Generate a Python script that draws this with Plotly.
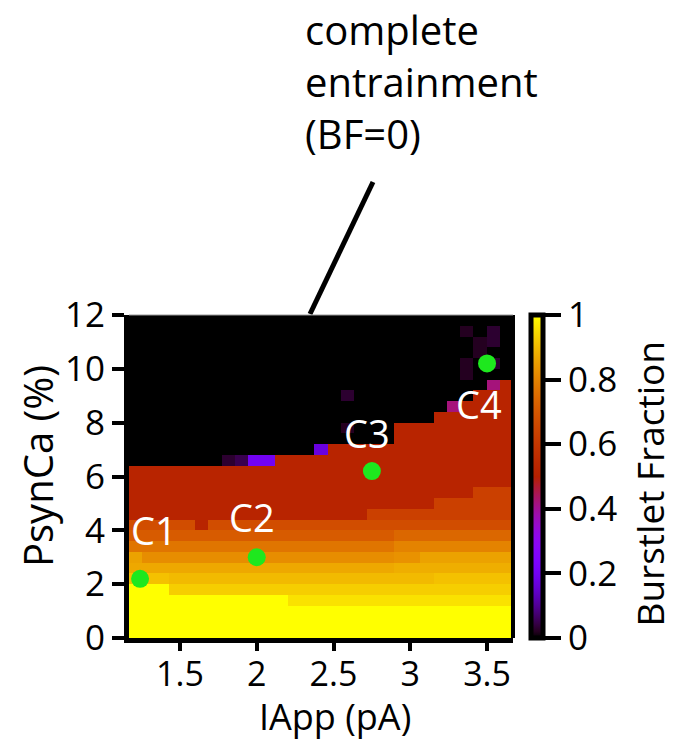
import math
import plotly.graph_objects as go

# ---------------- data ----------------
iapp = [1.211, 1.297, 1.383, 1.470, 1.556, 1.642, 1.728, 1.814, 1.901, 1.987,
        2.073, 2.159, 2.245, 2.332, 2.418, 2.504, 2.590, 2.676, 2.763, 2.849,
        2.935, 3.021, 3.107, 3.194, 3.280, 3.366, 3.452, 3.538, 3.625]
psynca = [0.2, 0.6, 1.0, 1.4, 1.8, 2.2, 2.6, 3.0, 3.4, 3.8,
          4.2, 4.6, 5.0, 5.4, 5.8, 6.2, 6.6, 7.0, 7.4, 7.8,
          8.2, 8.6, 9.0, 9.4, 9.8, 10.2, 10.6, 11.0, 11.4, 11.8]

# burstlet fraction in percent, one row per psynca value (bottom to top), 29 iapp columns
bf_pct = [
    [100] * 29,
    [100] * 29,
    [100] * 29,
    [100] * 12 + [96] * 17,
    [100] * 3 + [93] * 26,
    [91] * 3 + [90] * 20 + [91] * 6,
    [87] * 20 + [88] * 9,
    [86] + [82] * 19 + [83] * 2 + [86] * 7,
    [77] * 20 + [80] * 9,
    [71] * 20 + [74] * 9,
    [67] * 5 + [52] + [67] * 23,
    [52] * 18 + [63] * 11,
    [52] * 23 + [63] * 6,
    [52] * 26 + [63] * 3,
    [52] * 29,
    [52] * 29,
    [0] * 7 + [3, 5, 20, 20] + [52] * 18,
    [0] * 14 + [17] + [52] * 14,
    [0] * 20 + [52] * 9,
    [0] * 16 + [2] + [0] * 3 + [52] * 9,
    [0] * 23 + [52] * 6,
    [0] * 24 + [42] + [52] * 4,
    [0] * 16 + [3] + [0] * 9 + [52] * 3,
    [0] * 27 + [42, 52],
    [0] * 25 + [2] + [0] * 3,
    [0] * 25 + [2, 0, 3, 0],
    [0] * 26 + [2, 0, 0],
    [0] * 26 + [2, 3, 0],
    [0] * 25 + [2, 0, 3, 0],
    [0] * 29,
]
bf = [[v / 100 for v in row] for row in bf_pct]

case_labels = ["C1", "C2", "C3", "C4"]
case_iapp = [1.24, 2.0, 2.75, 3.5]
case_psynca = [2.2, 3.0, 6.2, 10.2]
label_iapp = [1.33, 1.97, 2.72, 3.45]
label_psynca = [4.0, 4.5, 7.6, 8.7]

x_tickvals = [1.5, 2, 2.5, 3, 3.5]
x_ticktext = ["1.5", "2", "2.5", "3", "3.5"]
y_tickvals = [0, 2, 4, 6, 8, 10, 12]
y_ticktext = ["0", "2", "4", "6", "8", "10", "12"]
cb_tickvals = [0, 0.2, 0.4, 0.6, 0.8, 1]
cb_ticktext = ["0", "0.2", "0.4", "0.6", "0.8", "1"]

x_title = "IApp (pA)"
y_title = "PsynCa (%)"
cb_title = "Burstlet Fraction"
note_text = "complete<br>entrainment<br>(BF=0)"

# ---------------- style ----------------
FONT = "Open Sans"
W, H = 676, 742
L, R, T, B = 129, 163, 315, 104


def px_x(px):
    return (px - L) / (W - L - R)


def px_y(py):
    return (H - B - py) / (H - T - B)


def gnuplot_rgb(v):
    r = math.sqrt(v)
    g = v ** 3
    b = max(0.0, math.sin(2 * math.pi * v))
    return "rgb(%d,%d,%d)" % (round(255 * r), round(255 * g), round(255 * b))


colorscale = [[i / 50, gnuplot_rgb(i / 50)] for i in range(51)]

fig = go.Figure()
fig.add_trace(go.Heatmap(
    x=iapp, y=psynca, z=bf, zmin=0, zmax=1, colorscale=colorscale,
    hoverinfo="skip",
    colorbar=dict(
        thickness=12, len=1, lenmode="fraction", y=0.5, yanchor="middle",
        x=px_x(531), xanchor="left", xpad=0, ypad=0,
        outlinewidth=5, outlinecolor="black",
        ticks="outside", ticklen=16, tickwidth=4, tickcolor="black",
        tickvals=cb_tickvals, ticktext=cb_ticktext,
        tickfont=dict(family=FONT, size=35, color="black"),
    ),
))
fig.add_trace(go.Scatter(
    x=case_iapp, y=case_psynca, mode="markers",
    marker=dict(size=18, color="#1ee81e", line=dict(width=0)),
    showlegend=False, hoverinfo="skip",
))

for lab, lx, ly in zip(case_labels, label_iapp, label_psynca):
    fig.add_annotation(x=lx, y=ly, xref="x", yref="y", text=lab, showarrow=False,
                       font=dict(family=FONT, size=38, color="white"))

fig.add_annotation(x=px_x(303), y=px_y(0), xref="paper", yref="paper",
                   xanchor="left", yanchor="top", align="left", showarrow=False,
                   text=note_text, font=dict(family=FONT, size=40, color="black"))

# axis and colorbar titles
fig.add_annotation(x=px_x(335), y=px_y(742), xref="paper", yref="paper",
                   xanchor="center", yanchor="bottom", showarrow=False, borderpad=0,
                   text=x_title, font=dict(family=FONT, size=36, color="black"))
fig.add_annotation(x=px_x(37), y=px_y(466), xref="paper", yref="paper",
                   xanchor="center", yanchor="middle", showarrow=False, textangle=-90,
                   text=y_title, font=dict(family=FONT, size=40, color="black"))
fig.add_annotation(x=px_x(675), y=px_y(484), xref="paper", yref="paper",
                   xanchor="right", yanchor="middle", showarrow=False, textangle=-90,
                   borderpad=0, text=cb_title, font=dict(family=FONT, size=37, color="black"))

fig.add_shape(type="line", xref="paper", yref="paper",
              x0=px_x(373), y0=px_y(182), x1=px_x(310), y1=px_y(314),
              line=dict(color="black", width=5))
fig.add_shape(type="line", xref="paper", yref="paper",
              x0=1, y0=0, x1=1, y1=1, line=dict(color="black", width=4))
fig.add_shape(type="line", xref="paper", yref="paper",
              x0=0, y0=1, x1=1, y1=1, line=dict(color="#999999", width=1))

axis_common = dict(
    showgrid=False, zeroline=False, showline=True, linewidth=5, linecolor="black",
    ticks="outside", tickwidth=4, tickcolor="black",
)
fig.update_xaxes(range=[1.168, 3.669], tickvals=x_tickvals, ticktext=x_ticktext,
                 ticklen=8, ticklabelstandoff=-6,
                 tickfont=dict(family=FONT, size=34, color="black"), **axis_common)
fig.update_yaxes(range=[0, 12], tickvals=y_tickvals, ticktext=y_ticktext,
                 ticklen=12, tickfont=dict(family=FONT, size=35, color="black"),
                 **axis_common)

fig.update_layout(
    width=W, height=H, margin=dict(l=L, r=R, t=T, b=B, autoexpand=False),
    paper_bgcolor="white", plot_bgcolor="white", showlegend=False,
)

fig.write_html("out.html")
